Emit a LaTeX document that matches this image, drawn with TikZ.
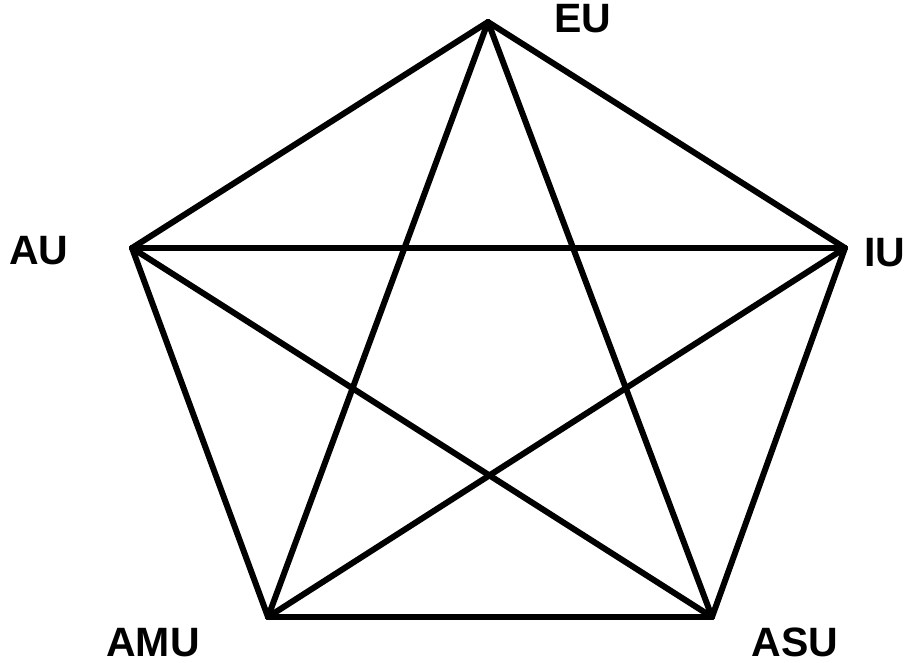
\documentclass[tikz,border=0pt]{standalone}
\usepackage{fontspec}
\setmainfont{Liberation Sans}
\usepackage{tikz}

\begin{document}
\begin{tikzpicture}[x=1pt, y=-1pt,
  edge/.style={line width=6pt, line cap=round, line join=miter},
  unionlabel/.style={font=\fontsize{41}{48}\selectfont\bfseries, inner sep=0pt, anchor=base}]
  \useasboundingbox (0,0) rectangle (913,663);
  % pentagon corners
  \coordinate (eu)  at (488,22);
  \coordinate (au)  at (132,248);
  \coordinate (iu)  at (845,248);
  \coordinate (amu) at (268,617);
  \coordinate (asu) at (712,617);
  % labels
  \node[unionlabel] (eulabel)  at (583,33)  {EU};
  \node[unionlabel] (aulabel)  at (39,264)  {AU};
  \node[unionlabel] (iulabel)  at (885,266) {IU};
  \node[unionlabel] (amulabel) at (153,656) {AMU};
  \node[unionlabel] (asulabel) at (795,656) {ASU};
  % outer ring
  \draw[edge] (eu) -- (iu);
  \draw[edge] (iu) -- (asu);
  \draw[edge] (asu) -- (amu);
  \draw[edge] (amu) -- (au);
  \draw[edge] (au) -- (eu);
  % inner star
  \draw[edge] (eu) -- (amu);
  \draw[edge] (eu) -- (asu);
  \draw[edge] (au) -- (iu);
  \draw[edge] (au) -- (asu);
  \draw[edge] (iu) -- (amu);
\end{tikzpicture}
\end{document}
